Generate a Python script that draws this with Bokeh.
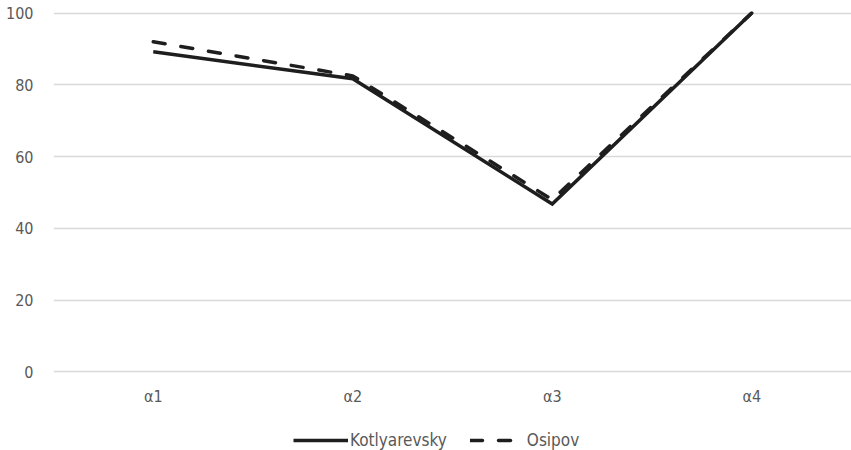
from bokeh.plotting import figure
from bokeh.layouts import column
from bokeh.models import Range1d, FactorRange, Legend, LegendItem, ColumnDataSource, FixedTicker
from bokeh.embed import file_html
from bokeh.resources import INLINE

categories = ["α1", "α2", "α3", "α4"]
kotlyarevsky = [89.2, 81.7, 46.8, 100.0]
osipov = [92.0, 82.5, 48.0, 100.0]
y_ticks = [0, 20, 40, 60, 80, 100]
series_names = ["Kotlyarevsky", "Osipov"]

src = ColumnDataSource(dict(x=categories, k=kotlyarevsky, o=osipov))

FONT = "DejaVu Sans Condensed"
TXT = "#595959"
LINE = "#1e1e1e"
DASH = "12 16"

p = figure(width=851, height=417, x_range=FactorRange(*categories), y_range=Range1d(-1, 101),
           output_backend="svg", toolbar_location=None,
           min_border_left=53, min_border_right=0, min_border_top=9, min_border_bottom=42)
p.outline_line_color = None
p.background_fill_color = "white"
p.border_fill_color = "white"

p.xgrid.grid_line_color = None
p.ygrid.grid_line_color = "#d9d9d9"
p.ygrid.grid_line_width = 1.5
p.yaxis.ticker = FixedTicker(ticks=y_ticks)

for ax in (p.xaxis, p.yaxis):
    ax.axis_line_color = None
    ax.major_tick_line_color = None
    ax.minor_tick_line_color = None
    ax.major_tick_out = 0
    ax.major_tick_in = 0
    ax.major_label_text_color = TXT
    ax.major_label_text_font = FONT
    ax.major_label_text_font_size = "16px"
p.yaxis.major_label_standoff = 20
p.xaxis.major_label_standoff = 11

p.line("x", "k", source=src, line_color=LINE, line_width=3.5, line_join="miter")
p.line("x", "o", source=src, line_color=LINE, line_width=3.5, line_dash=DASH, line_cap="round")

# legend strip beneath the chart (series drawn off-view so only legend glyphs show)
lg = figure(width=851, height=33, x_range=FactorRange(*categories), y_range=Range1d(1000, 1001),
            output_backend="svg", toolbar_location=None,
            x_axis_location=None, y_axis_location=None,
            min_border_left=0, min_border_right=0, min_border_top=0, min_border_bottom=0)
lg.outline_line_color = None
lg.xgrid.grid_line_color = None
lg.ygrid.grid_line_color = None
d1 = lg.line("x", "k", source=src, line_color=LINE, line_width=3.5)
d2 = lg.line("x", "o", source=src, line_color=LINE, line_width=3.5, line_dash=DASH, line_cap="round")

legend = Legend(items=[LegendItem(label=series_names[0], renderers=[d1]),
                       LegendItem(label=series_names[1], renderers=[d2])],
                orientation="horizontal", location=(240, 0),
                label_text_font=FONT, label_text_font_size="17px",
                label_text_color=TXT, glyph_width=55, glyph_height=18, label_standoff=2,
                spacing=23, border_line_color=None, background_fill_alpha=0,
                padding=0, margin=0)
lg.add_layout(legend)

layout = column(p, lg, spacing=0)
open("out.html", "w").write(file_html(layout, INLINE))
